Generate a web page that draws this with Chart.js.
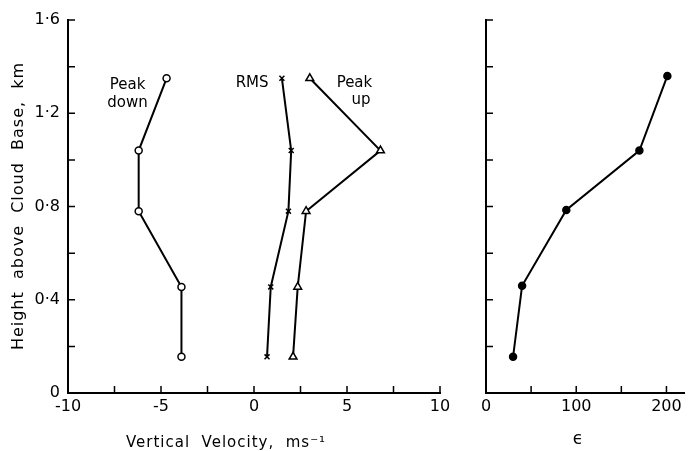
<!DOCTYPE html>
<html>
<head>
<meta charset="utf-8">
<script src="https://cdn.jsdelivr.net/npm/chart.js@4"></script>
<style>
    html, body { margin: 0; padding: 0; background: #fff; }
    #wrap { position: relative; width: 690px; height: 451px; }
    #leftChart { position: absolute; left: 0; top: 0; }
    #rightChart { position: absolute; left: 460px; top: 0; }
</style>
</head>
<body>
<div id="wrap">
    <canvas id="leftChart" width="460" height="451"></canvas>
    <canvas id="rightChart" width="230" height="451"></canvas>
</div>
<script>
// heights above cloud base (km) for each level
const heights = [1.35, 1.04, 0.78, 0.455, 0.155];
const peakDown = [-4.7, -6.2, -6.2, -3.9, -3.9];
const rms = [1.5, 2.0, 1.85, 0.9, 0.7];
const peakUp = [3.0, 6.8, 2.8, 2.35, 2.1];

const epsHeights = [1.36, 1.04, 0.785, 0.46, 0.155];
const epsilon = [201, 170, 89, 40, 30];

const velTicks = [-10, -5, 0, 5, 10];
const heightTicks = [0, 0.4, 0.8, 1.2, 1.6];
const epsTicks = [0, 100, 200];
const epsTickMarks = [0, 50, 100, 150, 200];

const FONT = "'DejaVu Sans', sans-serif";
Chart.defaults.font.family = FONT;
Chart.defaults.color = "#000";

function toPoints(xs, ys) {
    return xs.map((x, i) => ({ x: x, y: ys[i] }));
}

function heightLabel(v) {
    if (!heightTicks.some(h => Math.abs(h - v) < 1e-6)) return "";
    if (Math.abs(v) < 1e-6) return "0";
    return v.toFixed(1).replace(".", "\u00b7");
}

// tick marks pointing into the plot, like the original figure
const innerTicks = {
    id: "innerTicks",
    afterDraw(chart) {
        const ctx = chart.ctx;
        const area = chart.chartArea;
        const xs = chart.scales.x, ys = chart.scales.y;
        ctx.save();
        ctx.strokeStyle = "#000";
        ctx.lineWidth = 1.5;
        ctx.beginPath();
        xs.ticks.forEach(t => {
            const px = xs.getPixelForValue(t.value);
            ctx.moveTo(px, area.bottom);
            ctx.lineTo(px, area.bottom - 7);
        });
        ys.ticks.forEach(t => {
            const py = ys.getPixelForValue(t.value);
            ctx.moveTo(area.left, py);
            ctx.lineTo(area.left + 7, py);
        });
        ctx.stroke();
        ctx.restore();
    }
};

// series names and axis titles
const leftText = {
    id: "leftText",
    afterDraw(chart) {
        const ctx = chart.ctx;
        const xs = chart.scales.x, ys = chart.scales.y;
        const notes = [
            ["Peak", -6.8, 1.32], ["down", -6.8, 1.245],
            ["RMS", -0.1, 1.33],
            ["Peak", 5.4, 1.33], ["up", 5.75, 1.255]
        ];
        ctx.save();
        ctx.fillStyle = "#000";
        ctx.textAlign = "center";
        ctx.textBaseline = "middle";
        ctx.font = "15px " + FONT;
        notes.forEach(n => ctx.fillText(n[0], xs.getPixelForValue(n[1]), ys.getPixelForValue(n[2])));

        ctx.letterSpacing = "1px";
        ctx.font = "15px " + FONT;
        ctx.fillText("Vertical  Velocity,  ms\u207b\u00b9", 226, 443);

        ctx.translate(19, 206);
        ctx.rotate(-Math.PI / 2);
        ctx.font = "16px " + FONT;
        ctx.fillText("Height  above  Cloud  Base,  km", 0, 0);
        ctx.restore();
    }
};

const rightText = {
    id: "rightText",
    afterDraw(chart) {
        const ctx = chart.ctx;
        ctx.save();
        ctx.fillStyle = "#000";
        ctx.textAlign = "center";
        ctx.textBaseline = "middle";
        ctx.font = "17px " + FONT;
        ctx.fillText("\u03f5", 118, 440);
        ctx.restore();
    }
};

const lineStyle = {
    showLine: true,
    borderColor: "#000",
    borderWidth: 2,
    pointBorderColor: "#000",
    pointBorderWidth: 1.5
};

new Chart(document.getElementById("leftChart"), {
    type: "scatter",
    data: {
        datasets: [
            Object.assign({ label: "Peak down", data: toPoints(peakDown, heights),
                pointStyle: "circle", pointRadius: 3.5, pointBackgroundColor: "#fff" }, lineStyle),
            Object.assign({ label: "RMS", data: toPoints(rms, heights),
                pointStyle: "crossRot", pointRadius: 3.5, pointBackgroundColor: "#fff" }, lineStyle),
            Object.assign({ label: "Peak up", data: toPoints(peakUp, heights),
                pointStyle: "triangle", pointRadius: 4.5, pointBackgroundColor: "#fff" }, lineStyle)
        ]
    },
    options: {
        responsive: false,
        animation: false,
        layout: { padding: { top: 20, right: 20, left: 0, bottom: 0 } },
        plugins: { legend: { display: false }, tooltip: { enabled: false } },
        scales: {
            x: {
                type: "linear",
                min: -10,
                max: 10,
                ticks: {
                    stepSize: 2.5,
                    padding: 4,
                    maxRotation: 0,
                    autoSkip: false,
                    font: { size: 16 },
                    callback: v => velTicks.includes(v) ? String(v) : ""
                },
                grid: { drawOnChartArea: false, drawTicks: false },
                border: { display: true, color: "#000", width: 2 },
                afterFit: s => { s.height = 58; }
            },
            y: {
                min: 0,
                max: 1.6,
                ticks: {
                    stepSize: 0.2,
                    padding: 8,
                    autoSkip: false,
                    font: { size: 16 },
                    callback: v => heightLabel(v)
                },
                grid: { drawOnChartArea: false, drawTicks: false },
                border: { display: true, color: "#000", width: 2 },
                afterFit: s => { s.width = 68; }
            }
        }
    },
    plugins: [innerTicks, leftText]
});

new Chart(document.getElementById("rightChart"), {
    type: "scatter",
    data: {
        datasets: [
            Object.assign({ label: "epsilon", data: toPoints(epsilon, epsHeights),
                pointStyle: "circle", pointRadius: 3.5, pointBackgroundColor: "#000" }, lineStyle)
        ]
    },
    options: {
        responsive: false,
        animation: false,
        layout: { padding: { top: 20, right: 0, left: 0, bottom: 0 } },
        plugins: { legend: { display: false }, tooltip: { enabled: false } },
        scales: {
            x: {
                type: "linear",
                min: 0,
                max: 220,
                afterBuildTicks: s => { s.ticks = epsTickMarks.map(v => ({ value: v })); },
                ticks: {
                    padding: 4,
                    maxRotation: 0,
                    autoSkip: false,
                    font: { size: 16 },
                    callback: v => epsTicks.includes(v) ? String(v) : ""
                },
                grid: { drawOnChartArea: false, drawTicks: false },
                border: { display: true, color: "#000", width: 2 },
                afterFit: s => { s.height = 58; }
            },
            y: {
                min: 0,
                max: 1.6,
                ticks: { stepSize: 0.2, display: false },
                grid: { drawOnChartArea: false, drawTicks: false },
                border: { display: true, color: "#000", width: 2 },
                afterFit: s => { s.width = 26; }
            }
        }
    },
    plugins: [innerTicks, rightText]
});
</script>
</body>
</html>
